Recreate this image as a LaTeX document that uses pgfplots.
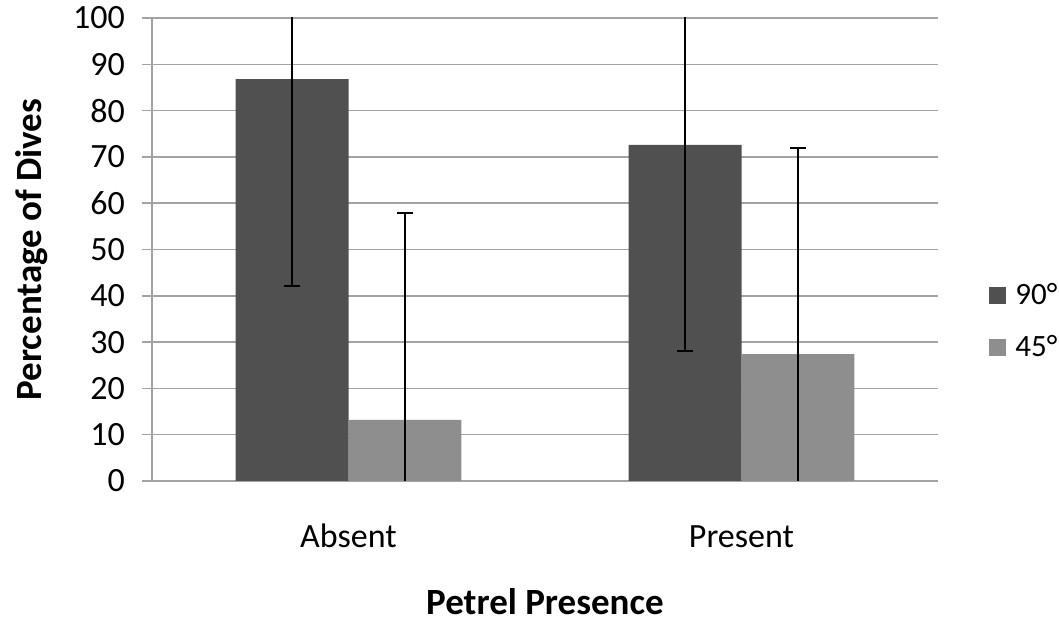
\documentclass[border=0pt]{standalone}
\usepackage{pgfplots}
\pgfplotsset{compat=1.18}
\usepackage{fontspec}
\setmainfont{Carlito}

\definecolor{darkbar}{HTML}{505050}
\definecolor{lightbar}{HTML}{8E8E8E}
\definecolor{gridgray}{HTML}{A3A3A3}

\begin{document}
\begin{tikzpicture}
\useasboundingbox (-76pt,-69.5pt) rectangle (453.5pt,240.5pt);
\begin{axis}[
    at={(0,0)}, anchor=south west,
    width=393pt, height=231.5pt, scale only axis,
    ybar,
    xmin=-0.5, xmax=1.5,
    ymin=0, ymax=100,
    ytick={0,10,...,100},
    xtick={0,1},
    xticklabels={Absent,Present},
    extra x ticks={-0.5,0.5,1.5},
    extra x tick labels={},
    extra x tick style={major tick length=5pt, tick style={gridgray, line width=0.75pt}},
    axis lines=left,
    axis line style={gridgray, line width=0.75pt, -},
    tick align=outside,
    major tick length=5pt,
    x tick style={draw=none},
    y tick style={gridgray, line width=0.75pt},
    ymajorgrids,
    grid style={gridgray, line width=0.75pt},
    tick label style={font=\fontsize{17}{20}\selectfont, /pgf/number format/assume math mode=true},
    yticklabel style={anchor=east, xshift=-5pt},
    xticklabel style={anchor=base, yshift=-28.5pt},
    xlabel={Petrel Presence},
    ylabel={Percentage of Dives},
    label style={font=\bfseries\fontsize{18.5}{22}\selectfont},
    xlabel style={at={(axis description cs:0.5,-0.26)}, anchor=center, inner sep=0pt},
    ylabel style={at={(axis description cs:-0.153,0.5)}, anchor=center},
    bar width=0.2875,
    legend style={at={(axis description cs:1,0.345)}, anchor=west, xshift=25.5pt,
        draw=none, inner sep=0pt, font=\fontsize{15.5}{18}\selectfont,
        row sep=10pt, cells={anchor=west}},
    legend image code/.code={\fill[#1] (0pt,-4.25pt) rectangle (8.5pt,4.25pt); \path (11pt,0pt);},
    error bars/error bar style={black, line width=1pt},
    error bars/error mark options={rotate=90, mark size=4pt, line width=1pt, black},
]
\addplot[fill=darkbar, draw=none, bar shift=-0.14375,
    error bars/.cd, y dir=both, y explicit]
    coordinates {(0,86.8) +- (0,44.7) (1,72.6) +- (0,44.5)};
\addplot[fill=lightbar, draw=none, bar shift=0.14375,
    error bars/.cd, y dir=both, y explicit]
    coordinates {(0,13.2) +- (0,44.7) (1,27.4) +- (0,44.5)};
\legend{90°,45°}
\end{axis}
\end{tikzpicture}
\end{document}
